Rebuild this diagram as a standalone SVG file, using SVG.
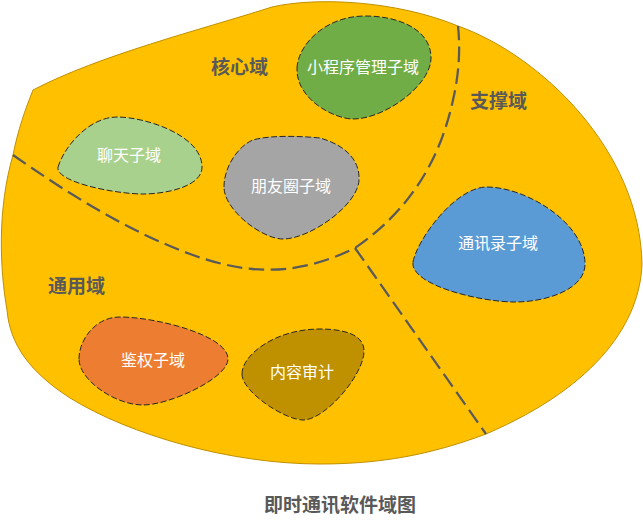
<svg xmlns="http://www.w3.org/2000/svg" width="643" height="528" viewBox="0 0 643 528">
<style>
.blob{stroke:#262626;stroke-width:1;stroke-dasharray:6 2.5}
.sub{font:16px "Noto Sans CJK SC","Noto Sans",sans-serif;fill:#fff;text-anchor:middle}
.dom{font:bold 19px "Noto Sans CJK SC","Noto Sans",sans-serif;fill:#595959;text-anchor:middle}
.div{fill:none;stroke:#595959;stroke-width:2.25;stroke-dasharray:15.5 6.5}
</style>
<rect width="643" height="528" fill="#fff"/>
<g id="area"><path d="M33 90C100 55 200 30 272 7C315 -3 395 0 458 26C540 55 640 150 642 264C640 320 600 385 486 434C430 455 380 464 320 464C230 464 130 435 70 398C30 372 10 345 7 310C0 270 -3 210 13 155C18 130 25 110 33 90Z" fill="#FFC000" stroke="#BF9000" stroke-width="1"/></g>
<g id="connectors">
<path class="div" d="M13 155C70 195 130 232 190 254C240 272 290 280 355 248C410 210 440 160 453 100C460 70 460 45 458 26"/>
<path class="div" d="M355 248L486 434"/>
</g>
<g id="core-label"><text class="dom" x="239.500" y="74">核心域</text></g>
<g id="support-label"><text class="dom" x="498.500" y="108">支撑域</text></g>
<g id="generic-label"><text class="dom" x="76.500" y="293">通用域</text></g>
<g id="miniapp"><path class="blob" fill="#70AD47" d="M297 68C298 45 325 16 365 16C400 16 431 30 431 58C431 85 385 119 353 119C335 119 296 100 297 68Z"/><text class="sub" x="363" y="73">小程序管理子域</text></g>
<g id="chat"><path class="blob" fill="#A9D18E" d="M58 167C65 145 90 117 117 117C145 117 202 135 202 167C202 187 165 194 143 194C115 194 55 182 58 167Z"/><text class="sub" x="129" y="161">聊天子域</text></g>
<g id="moments"><path class="blob" fill="#A5A5A5" d="M224 187C224 165 240 145 253 140C270 135 300 136 320 138C345 145 360 160 359 180C358 205 310 239 283 239C262 239 224 210 224 187Z"/><text class="sub" x="291" y="192">朋友圈子域</text></g>
<g id="contacts"><path class="blob" fill="#5B9BD5" d="M413 262C417 240 455 187 487 187C525 187 585 222 585 264C585 290 545 302 515 302C480 302 410 285 413 262Z"/><text class="sub" x="498" y="249">通讯录子域</text></g>
<g id="auth"><path class="blob" fill="#ED7D31" d="M79 359C79 340 95 317 120 317C155 317 228 335 228 359C228 378 170 405 143 405C115 405 79 380 79 359Z"/><text class="sub" x="153" y="366">鉴权子域</text></g>
<g id="review"><path class="blob" fill="#BF9000" d="M242 374C242 355 275 329 320 329C345 329 364 335 364 351C364 375 325 420 303 420C285 420 242 392 242 374Z"/><text class="sub" x="302" y="378">内容审计</text></g>
<g id="title"><text class="dom" x="340" y="512">即时通讯软件域图</text></g>
</svg>
